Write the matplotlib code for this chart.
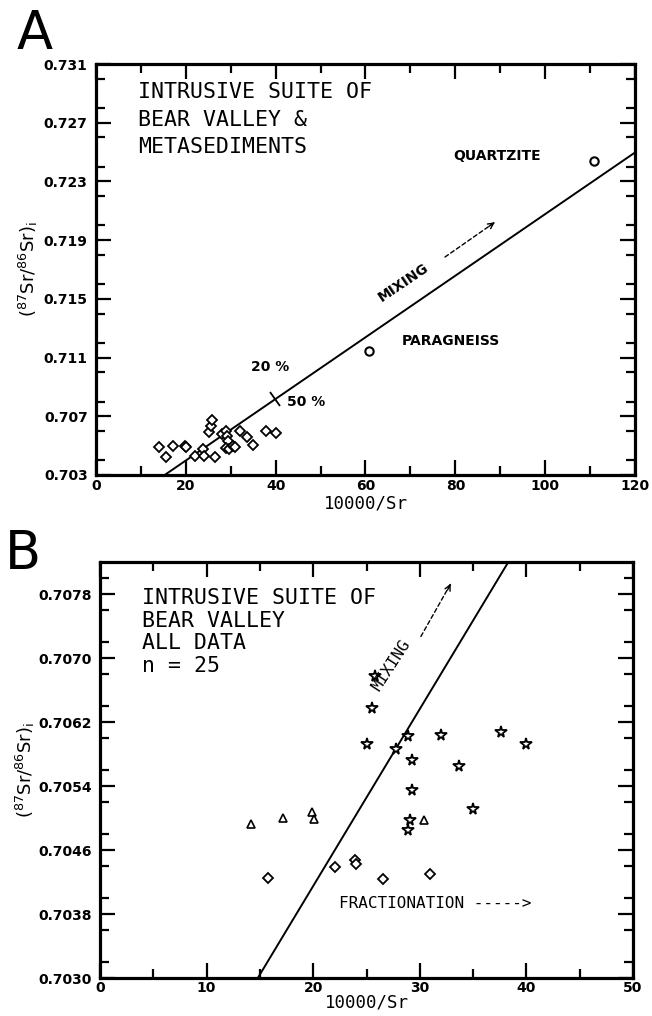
import numpy as np
import matplotlib
matplotlib.use('Agg')
import matplotlib.pyplot as plt
from matplotlib.ticker import MultipleLocator, FixedLocator
from matplotlib.markers import MarkerStyle
from matplotlib.transforms import Affine2D

# ---- panel A data : intrusive suite (diamonds) + metasediments (circles)
a_intr_x = [14.1, 15.6, 17.2, 19.9, 20.1, 22.0, 23.9, 24.1, 25.2, 25.6, 25.9, 26.5, 28.0,
            28.9, 29.1, 29.3, 28.9, 29.6, 30.4, 31.0, 32.0, 33.7, 35.0, 37.8, 40.0]
a_intr_y = [0.70489, 0.70420, 0.70500, 0.70500, 0.70489, 0.70432, 0.70480, 0.70432, 0.70591,
            0.70636, 0.70677, 0.70420, 0.70582, 0.70598, 0.70564, 0.70530, 0.70484, 0.70480,
            0.70495, 0.70489, 0.70598, 0.70557, 0.70507, 0.70602, 0.70586]
a_meta_x = [110.8, 60.7]          # quartzite, paragneiss
a_meta_y = [0.72436, 0.71146]
a_line_x = [15.3, 120.0]
a_line_y = [0.7030, 0.72497]
a_mark50_x = [39.9]
a_mark50_y = [0.70818]
a_yticks = [0.703, 0.707, 0.711, 0.715, 0.719, 0.723, 0.727, 0.731]
a_xticks = [0, 20, 40, 60, 80, 100, 120]

# ---- panel B data : all 25 samples, three symbol groups
b_star_x = [25.8, 25.5, 25.0, 27.8, 28.9, 29.3, 32.0, 33.7, 37.6, 40.0, 29.3, 35.0, 29.1, 28.9]
b_star_y = [0.70678, 0.70638, 0.70593, 0.70586, 0.70602, 0.70573, 0.70604, 0.70565, 0.70608,
            0.70592, 0.70535, 0.70511, 0.70497, 0.70485]
b_tri_x = [14.2, 17.2, 19.9, 20.1, 30.35]
b_tri_y = [0.70493, 0.70500, 0.70507, 0.70499, 0.70497]
b_dia_x = [15.8, 22.0, 23.9, 24.05, 26.5, 31.0]
b_dia_y = [0.70425, 0.70439, 0.70448, 0.70443, 0.70424, 0.70430]
b_line_x = [14.8, 38.3]
b_line_y = [0.7030, 0.7082]
b_yticks = [0.7030, 0.7038, 0.7046, 0.7054, 0.7062, 0.7070, 0.7078]
b_xticks = [0, 10, 20, 30, 40, 50]

mono = 'DejaVu Sans Mono'
ylab = r'$(^{87}\mathrm{Sr}/^{86}\mathrm{Sr})_{\mathrm{i}}$'


def style_axes(ax, xmaj, xmin, ymaj, ymin, ydigits, xpad):
    ax.xaxis.set_major_locator(FixedLocator(xmaj))
    ax.xaxis.set_minor_locator(MultipleLocator(xmin))
    ax.yaxis.set_major_locator(FixedLocator(ymaj))
    ax.yaxis.set_minor_locator(MultipleLocator(ymin))
    ax.set_yticklabels(['%.*f' % (ydigits, v) for v in ymaj])
    ax.set_xticklabels([str(v) for v in xmaj])
    ax.tick_params(which='both', direction='in', top=True, right=True, width=1.6,
                   labelsize=10)
    ax.tick_params(which='major', length=11)
    ax.tick_params(which='minor', length=6.5)
    ax.tick_params(axis='y', pad=6)
    ax.tick_params(axis='x', pad=xpad)
    for lab in ax.get_xticklabels() + ax.get_yticklabels():
        lab.set_fontweight('bold')
    for sp in ax.spines.values():
        sp.set_linewidth(2.3)


fig = plt.figure(figsize=(6.52, 10.16), dpi=100)

# ------------------------------------------------------------------ A
ax1 = fig.add_axes([0.1472, 0.5325, 0.8267, 0.4045])
ax1.set_xlim(0, 120)
ax1.set_ylim(0.703, 0.731)
ax1.plot(a_line_x, a_line_y, color='black', lw=1.4, clip_on=True)
ax1.plot(a_intr_x, a_intr_y, linestyle='none', marker='D', ms=4.6, mfc='white',
         mec='black', mew=1.3)
ax1.plot(a_meta_x, a_meta_y, linestyle='none', marker='o', ms=6, mfc='white',
         mec='black', mew=1.5)
tick50 = MarkerStyle('|', transform=Affine2D().rotate_deg(34))
ax1.plot(a_mark50_x, a_mark50_y, linestyle='none', marker=tick50, ms=12, mew=1.3,
         color='black')
style_axes(ax1, a_xticks, 10, a_yticks, 0.002, 3, 3)

for i, s in enumerate(['INTRUSIVE SUITE OF', 'BEAR VALLEY &', 'METASEDIMENTS']):
    ax1.text(0.078, 0.9165 - i * 0.0668, s, transform=ax1.transAxes, family=mono,
             fontsize=15.5, ha='left', va='baseline')
ax1.text(79.6, 0.7247, 'QUARTZITE', fontsize=10, fontweight='bold', ha='left', va='center')
ax1.text(68.1, 0.71215, 'PARAGNEISS', fontsize=10, fontweight='bold', ha='left', va='center')
ax1.text(38.85, 0.71037, '20 %', fontsize=10, fontweight='bold', ha='center', va='center')
ax1.text(42.6, 0.70794, '50 %', fontsize=10, fontweight='bold', ha='left', va='center')
ax1.text(63.6, 0.7148, 'MIXING', fontsize=10, fontweight='bold', rotation=34,
         rotation_mode='anchor', ha='left', va='baseline')
ax1.annotate('', xy=(88.8, 0.72022), xytext=(77.7, 0.71785),
             arrowprops=dict(arrowstyle='-', lw=1.0, linestyle=(0, (3, 2)), color='black',
                             shrinkA=0, shrinkB=0))
ax1.annotate('', xy=(88.8, 0.72022), xytext=(87.5, 0.71994),
             arrowprops=dict(arrowstyle='->', lw=1.0, color='black', shrinkA=0, shrinkB=0,
                             mutation_scale=10))
ax1.text(0.5, -0.0706, '10000/Sr', transform=ax1.transAxes, family=mono, fontsize=12.5,
         ha='center', va='center')
ax1.text(-0.126, 0.5, ylab, transform=ax1.transAxes, fontsize=13, rotation=90,
         ha='center', va='center')

# ------------------------------------------------------------------ B
ax2 = fig.add_axes([0.1534, 0.0374, 0.8175, 0.4094])
ax2.set_xlim(0, 50)
ax2.set_ylim(0.7030, 0.7082)
ax2.plot(b_line_x, b_line_y, color='black', lw=1.4)
ax2.plot(b_star_x, b_star_y, linestyle='none', marker='*', ms=8.5, mfc='white',
         mec='black', mew=1.3)
ax2.plot(b_tri_x, b_tri_y, linestyle='none', marker='^', ms=5.5, mfc='white',
         mec='black', mew=1.2)
ax2.plot(b_dia_x, b_dia_y, linestyle='none', marker='D', ms=4.6, mfc='white',
         mec='black', mew=1.3)
style_axes(ax2, b_xticks, 5, b_yticks, 0.0004, 4, 2)

for i, s in enumerate(['INTRUSIVE SUITE OF', 'BEAR VALLEY', 'ALL DATA', 'n = 25']):
    ax2.text(0.078, 0.898 - i * 0.054, s, transform=ax2.transAxes, family=mono,
             fontsize=15.5, ha='left', va='baseline')
ax2.text(26.2, 0.70657, 'MIXING', family=mono, fontsize=11.5, rotation=57,
         rotation_mode='anchor', ha='left', va='baseline')
ax2.annotate('', xy=(32.9, 0.70793), xytext=(30.1, 0.70727),
             arrowprops=dict(arrowstyle='-', lw=1.0, linestyle=(0, (3, 2)), color='black',
                             shrinkA=0, shrinkB=0))
ax2.annotate('', xy=(32.9, 0.70793), xytext=(32.6, 0.70785),
             arrowprops=dict(arrowstyle='->', lw=1.0, color='black', shrinkA=0, shrinkB=0,
                             mutation_scale=10))
ax2.text(22.4, 0.70393, 'FRACTIONATION ----->', family=mono, fontsize=11.5,
         ha='left', va='center')
ax2.text(0.5, -0.06, '10000/Sr', transform=ax2.transAxes, family=mono, fontsize=12.5,
         ha='center', va='center')
ax2.text(-0.14, 0.5, ylab, transform=ax2.transAxes, fontsize=13, rotation=90,
         ha='center', va='center')

# panel letters
fig.text(0.025, 0.9518, 'A', fontsize=38, ha='left', va='baseline')
fig.text(0.008, 0.4403, 'B', fontsize=38, ha='left', va='baseline')

fig.savefig('out.png', dpi=100)
plt.close(fig)
